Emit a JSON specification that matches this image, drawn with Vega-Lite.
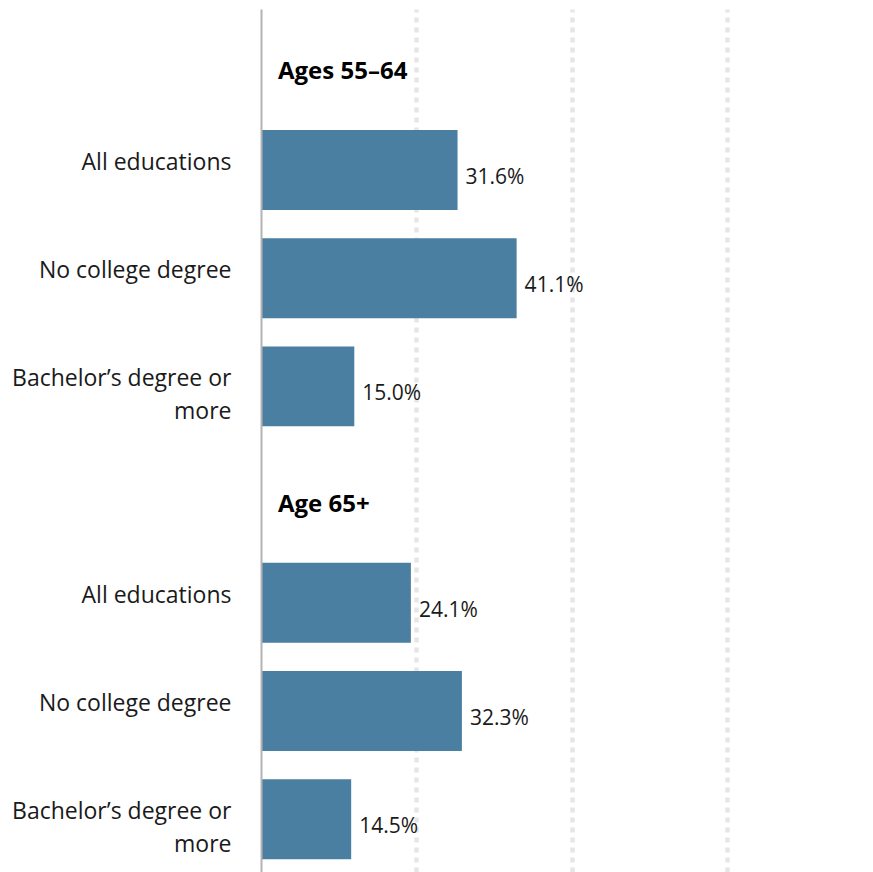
{
  "$schema": "https://vega.github.io/schema/vega-lite/v6.json",
  "width": 612,
  "height": 863,
  "autosize": {"type": "none"},
  "padding": {"left": 261, "top": 9, "right": 0, "bottom": 0},
  "config": {"view": {"stroke": null}, "font": "Open Sans"},
  "datasets": {
    "bars": [
      {"key": "a1", "value": 0.316},
      {"key": "n1", "value": 0.411},
      {"key": "b1", "value": 0.150},
      {"key": "a2", "value": 0.241},
      {"key": "n2", "value": 0.323},
      {"key": "b2", "value": 0.145}
    ],
    "headers": [
      {"key": "h1", "header": "Ages 55–64"},
      {"key": "h2", "header": "Age 65+"}
    ]
  },
  "layer": [
    {
      "data": {"name": "bars"},
      "mark": {"type": "bar", "color": "#4a7fa1"},
      "encoding": {
        "y": {
          "field": "key",
          "type": "nominal",
          "scale": {"domain": ["h1", "a1", "n1", "b1", "h2", "a2", "n2", "b2"], "paddingInner": 0.2615, "paddingOuter": 0.1185},
          "axis": {
            "title": null,
            "ticks": false,
            "labelPadding": 30,
            "labelLimit": 400,
            "labelFont": "Open Sans",
            "labelFontSize": 23,
            "labelColor": "#1a1a1a",
            "labelBaseline": "alphabetic",
            "labelLineHeight": 33,
            "labelExpr": "indexof(datum.value,'a')==0 ? 'All educations' : indexof(datum.value,'n')==0 ? 'No college degree' : indexof(datum.value,'b')==0 ? ['Bachelor’s degree or','more'] : ''",
            "domain": true,
            "domainColor": "#b3b3b3",
            "domainWidth": 2,
            "grid": false,
            "zindex": 1
          }
        },
        "x": {
          "field": "value",
          "type": "quantitative",
          "scale": {"domain": [0, 0.984], "nice": false, "zero": true},
          "axis": {
            "title": null,
            "labels": false,
            "ticks": false,
            "domain": false,
            "grid": true,
            "values": [0.25, 0.5, 0.75],
            "gridColor": "#e6e6e6",
            "gridWidth": 4.5,
            "gridDash": [5, 5],
            "zindex": 0
          }
        }
      }
    },
    {
      "data": {"name": "bars"},
      "mark": {"type": "text", "align": "left", "baseline": "alphabetic", "dx": 8, "dy": 14, "fontSize": 21, "color": "#1a1a1a", "font": "Open Sans"},
      "encoding": {
        "y": {"field": "key", "type": "nominal"},
        "x": {"field": "value", "type": "quantitative"},
        "text": {"field": "value", "type": "quantitative", "format": ".1%"}
      }
    },
    {
      "data": {"name": "headers"},
      "mark": {"type": "text", "align": "left", "baseline": "alphabetic", "dx": 17, "dy": 17.5, "fontSize": 24, "fontWeight": "bold", "color": "#000000", "font": "Open Sans"},
      "encoding": {
        "y": {"field": "key", "type": "nominal"},
        "x": {"datum": 0, "type": "quantitative"},
        "text": {"field": "header", "type": "nominal"}
      }
    }
  ]
}
